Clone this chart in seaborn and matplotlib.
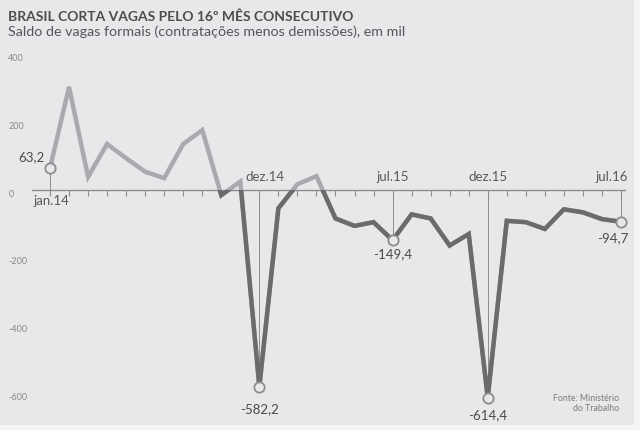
import numpy as np
import pandas as pd
import seaborn as sns
import matplotlib.pyplot as plt
from matplotlib.patches import Rectangle

# Saldo mensal de vagas formais, em mil (jan.14 a jul.16)
months = list(range(31))
values = [63.2, 304, 38, 135, 93, 53, 34, 135, 176, -16, 24, -582.2,
          -55, 16, 40, -85, -107, -96, -149.4, -73, -85, -165, -131, -614.4,
          -92, -96, -116, -58, -67, -87, -94.7]

# Pontos destacados com rotulo de valor
hl_idx = [0, 11, 18, 23, 30]
hl_labels = ["63,2", "-582,2", "-149,4", "-614,4", "-94,7"]

# Rotulos de meses
month_idx = [0, 11, 18, 23, 30]
month_labels = ["jan.14", "dez.14", "jul.15", "dez.15", "jul.16"]

yticks = [400, 200, 0, -200, -400, -600]

df = pd.DataFrame({"month": months, "value": values})

sns.set_theme(style="white")
plt.rcParams["font.family"] = ["Lato", "DejaVu Sans"]

bg = "#e8e8ea"
light = "#a9aaad"
dark = "#6b6b6e"
grey = "#8d8d90"

fig = plt.figure(figsize=(6.4, 4.3), dpi=100, facecolor="#f4f4f4")
fig.patches.append(Rectangle((0, 0.012), 0.99, 0.988, transform=fig.transFigure,
                             facecolor=bg, edgecolor="none", zorder=-10))
ax = fig.add_axes([0, 1 - 420 / 430, 1, 370 / 430])
ax.set_facecolor("none")

ax.set_xlim(-2.627, 31.0)
ax.set_ylim(-680.6, 412.8)

# guide lines from baseline to highlighted points
hl_vals = [values[i] for i in hl_idx]
ax.vlines(hl_idx, 0, hl_vals, color=grey, lw=0.7, zorder=1)

# light line (full) and dark line clipped below zero
sns.lineplot(data=df, x="month", y="value", ax=ax, color=light, lw=3.2,
             solid_joinstyle="miter", zorder=3)
sns.lineplot(data=df, x="month", y="value", ax=ax, color=dark, lw=3.2,
             solid_joinstyle="miter", zorder=4)
clip = Rectangle((-5, -1000), 40, 1000, transform=ax.transData)
ax.lines[-1].set_clip_path(clip)

# markers at highlighted points
sns.scatterplot(x=hl_idx, y=hl_vals, ax=ax, s=55, color=bg, edgecolor=grey,
                linewidth=1.3, zorder=5)

# value labels
offsets = [(-4, 8, "right"), (0, -16, "center"), (0, -10, "center"),
           (0, -13, "center"), (5, -12, "right")]
for i, lab, (dx, dy, ha) in zip(hl_idx, hl_labels, offsets):
    ax.annotate(lab, (i, values[i]), xytext=(dx, dy), textcoords="offset points",
                ha=ha, va="center", fontsize=9.5, color="#4a4a4d")

# month labels
m_offsets = [(-12, -8, "left"), (4, 9, "center"), (0, 9, "center"),
             (0, 9, "center"), (5, 9, "right")]
for i, lab, (dx, dy, ha) in zip(month_idx, month_labels, m_offsets):
    ax.annotate(lab, (i, 0), xytext=(dx, dy), textcoords="offset points",
                ha=ha, va="center", fontsize=9.5, color="#5a5a5d")

# baseline with monthly ticks
sns.despine(ax=ax, left=True, top=True, right=True, bottom=False)
ax.spines["bottom"].set_position(("data", 0))
ax.spines["bottom"].set_bounds(-0.95, 30.2)
ax.spines["bottom"].set_color(grey)
ax.spines["bottom"].set_linewidth(1.0)
ax.set_xticks(months)
ax.set_xticklabels([])
ax.tick_params(axis="x", direction="out", length=4.5, width=0.8, color=grey, bottom=True)

ax.set_yticks(yticks)
ax.set_yticklabels([str(t) for t in yticks])
ax.tick_params(axis="y", length=0, pad=-6, labelsize=6.5, labelcolor="#8a8a8d")
for t in ax.get_yticklabels():
    t.set_ha("left")
    t.set_va("top")
ax.set_xlabel("")
ax.set_ylabel("")
ax.grid(False)

fig.text(0.0125, 0.952, "BRASIL CORTA VAGAS PELO 16º MÊS CONSECUTIVO",
         fontsize=10, fontweight="bold", color="#4d4d50", va="baseline")
fig.text(0.0125, 0.916, "Saldo de vagas formais (contratações menos demissões), em mil",
         fontsize=10.3, color="#55555a", va="baseline")
fig.text(0.968, 0.062, "Fonte: Ministério\ndo Trabalho", fontsize=6.3,
         color="#7a7a7d", ha="right", va="center", linespacing=1.1)

fig.savefig("out.png", dpi=100, facecolor=fig.get_facecolor())
